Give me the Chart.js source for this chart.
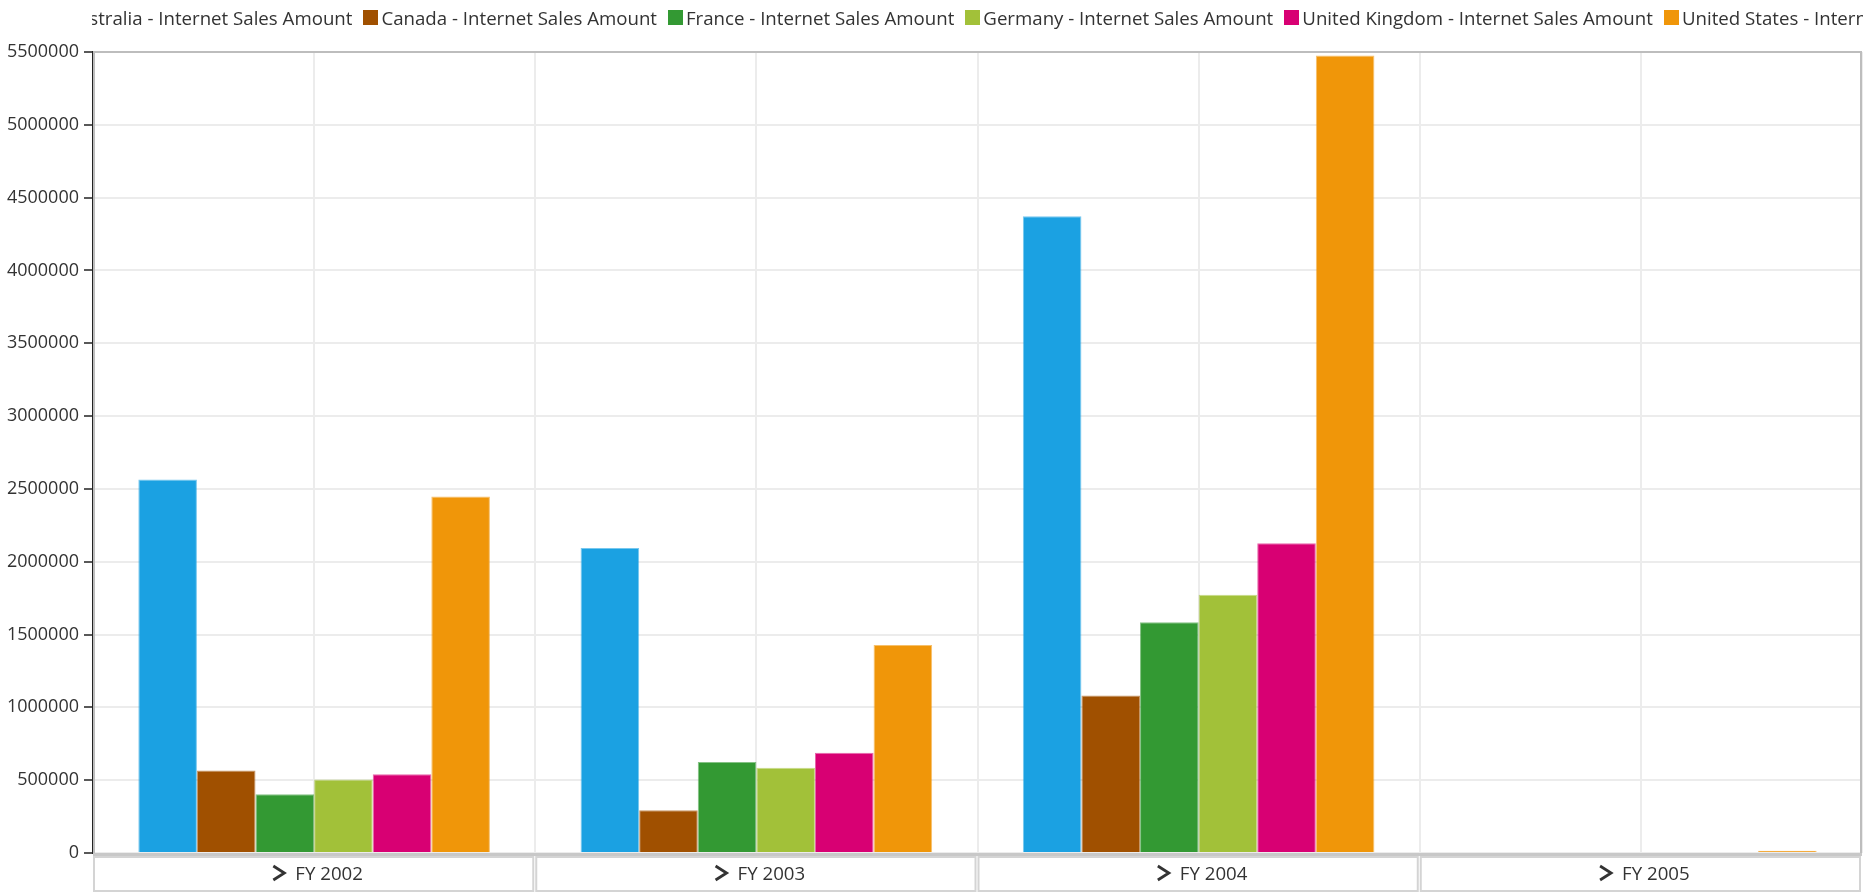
<!DOCTYPE html>
<html>
<head>
<meta charset="utf-8">
<title>Internet Sales Amount by Fiscal Year</title>
<script src="https://cdn.jsdelivr.net/npm/chart.js@4.4.0/dist/chart.umd.min.js"></script>
<style>
    html, body { margin: 0; padding: 0; background: #fff; }
    #wrap { position: relative; width: 1863px; height: 893px; overflow: hidden; }
    #legend {
        position: absolute; top: 0; left: 92px; right: 0; height: 40px;
        overflow: hidden; font-family: 'Open Sans', sans-serif; font-size: 18.67px; color: #333;
    }
    #legendRow { position: absolute; top: 5px; left: -44px; display: flex; white-space: nowrap; }
    .item { display: flex; align-items: center; margin-right: 11px; }
    .swatch { width: 15px; height: 15px; margin-right: 3px; }
</style>
</head>
<body>
<div id="wrap">
    <canvas id="salesChart"></canvas>
    <div id="legend"><div id="legendRow"></div></div>
</div>
<script>
// Chart data
const categories = ['FY 2002', 'FY 2003', 'FY 2004', 'FY 2005'];
const seriesNames = [
    'Australia - Internet Sales Amount',
    'Canada - Internet Sales Amount',
    'France - Internet Sales Amount',
    'Germany - Internet Sales Amount',
    'United Kingdom - Internet Sales Amount',
    'United States - Internet Sales Amount'
];
const australia = [2565000, 2094000, 4373000, 0];
const canada = [567000, 294000, 1081000, 0];
const france = [404000, 624000, 1585000, 0];
const germany = [505000, 585000, 1774000, 0];
const unitedKingdom = [541000, 688000, 2127000, 0];
const unitedStates = [2448000, 1428000, 5476000, 16000];
const yTicks = [0, 500000, 1000000, 1500000, 2000000, 2500000, 3000000, 3500000, 4000000, 4500000, 5000000, 5500000];

const colors = ['#1ba1e2', '#a05000', '#339933', '#a2c139', '#d80073', '#f09609'];
const seriesValues = [australia, canada, france, germany, unitedKingdom, unitedStates];

// HTML legend (overflows and is clipped like the original)
const legendRow = document.getElementById('legendRow');
seriesNames.forEach((name, i) => {
    const item = document.createElement('div');
    item.className = 'item';
    item.innerHTML = `<span class="swatch" style="background:${colors[i]}"></span><span>${name}</span>`;
    legendRow.appendChild(item);
});

// Frame, category boxes and chevrons
const framePlugin = {
    id: 'frame',
    afterDraw(chart) {
        const { ctx, chartArea: a, scales } = chart;
        const x = scales.x;
        ctx.save();
        ctx.strokeStyle = '#bdbdbd';
        ctx.lineWidth = 2;
        ctx.beginPath();
        ctx.moveTo(a.left + 1, a.bottom);
        ctx.lineTo(a.left + 1, a.top);
        ctx.lineTo(a.right - 1, a.top);
        ctx.lineTo(a.right - 1, a.bottom);
        ctx.stroke();
        ctx.strokeStyle = '#c8c8c8';
        ctx.lineWidth = 3;
        ctx.beginPath();
        ctx.moveTo(a.left, a.bottom + 1.5);
        ctx.lineTo(a.right, a.bottom + 1.5);
        ctx.stroke();

        const catW = (a.right - a.left) / categories.length;
        categories.forEach((label, i) => {
            const x0 = a.left + i * catW;
            ctx.strokeStyle = '#d4d4d4';
            ctx.lineWidth = 2;
            ctx.strokeRect(x0 + 1, a.bottom + 4, catW - 3, 34);

            ctx.font = '18.67px "Open Sans", sans-serif';
            const tw = ctx.measureText(label).width;
            const cx = x.getPixelForTick(i) + 15;
            const right = cx - tw / 2 - 11;
            const cy = a.bottom + 20;
            ctx.strokeStyle = '#333';
            ctx.lineWidth = 2.8;
            ctx.beginPath();
            ctx.moveTo(right - 11, cy - 7);
            ctx.lineTo(right, cy);
            ctx.lineTo(right - 11, cy + 7);
            ctx.stroke();
        });
        ctx.restore();
    }
};

const ctx = document.getElementById('salesChart');
new Chart(ctx, {
    type: 'bar',
    data: {
        labels: categories,
        datasets: seriesNames.map((name, i) => ({
            label: name,
            data: seriesValues[i],
            backgroundColor: colors[i],
            borderColor: colors[i] + '99',
            borderWidth: { top: 1, left: 1, right: 1, bottom: 0 },
            categoryPercentage: 0.795,
            barPercentage: 1.0
        }))
    },
    options: {
        responsive: true,
        maintainAspectRatio: false,
        animation: false,
        layout: { padding: { top: 52, right: 1, left: 0, bottom: 0 } },
        plugins: {
            legend: { display: false },
            tooltip: { enabled: true }
        },
        scales: {
            x: {
                offset: true,
                grid: { color: '#ececec', lineWidth: 2, offset: true, drawTicks: false },
                border: { display: false },
                ticks: {
                    color: '#333',
                    padding: 10,
                    labelOffset: 15,
                    font: { family: "'Open Sans', sans-serif", size: 18.67 }
                },
                afterFit: (scale) => { scale.height = 40; }
            },
            x2: {
                type: 'category',
                labels: categories,
                position: 'bottom',
                offset: true,
                grid: { color: '#ececec', lineWidth: 2, offset: false, drawTicks: false },
                border: { display: false },
                ticks: { display: false },
                afterFit: (scale) => { scale.height = 0; }
            },
            y: {
                min: 0,
                max: 5500000,
                afterBuildTicks: (scale) => { scale.ticks = yTicks.map(v => ({ value: v })); },
                grid: { color: '#ececec', lineWidth: 2, tickColor: '#222', tickLength: 9, tickWidth: 1.5 },
                border: { color: '#222', width: 1.5 },
                ticks: {
                    color: '#333',
                    padding: 5,
                    font: { family: "'Open Sans', sans-serif", size: 18 },
                    callback: (v) => String(v)
                },
                afterFit: (scale) => { scale.width = 93; }
            }
        }
    },
    plugins: [framePlugin]
});
</script>
</body>
</html>
